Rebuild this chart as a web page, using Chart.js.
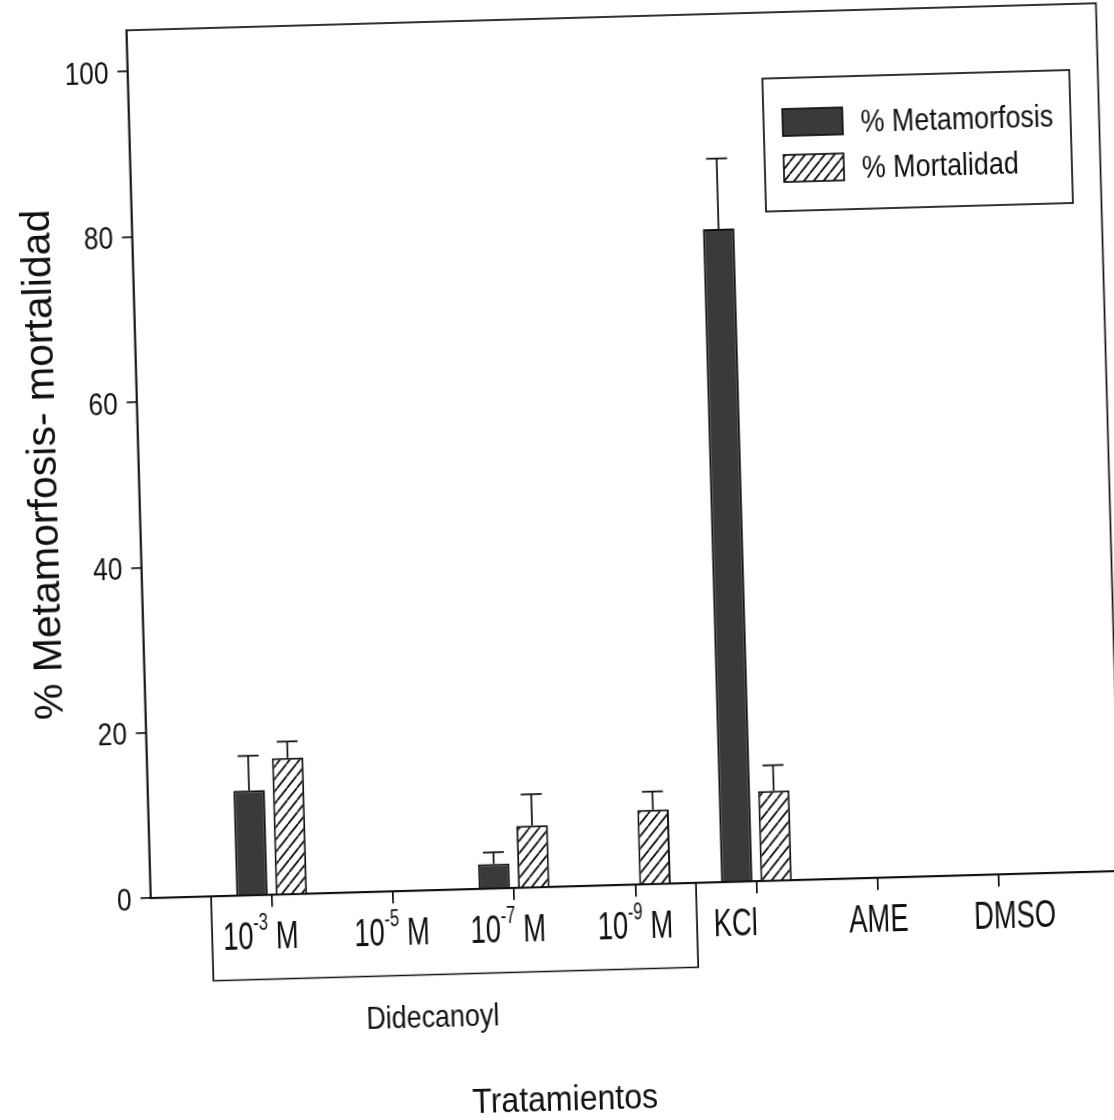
<!DOCTYPE html>
<html>
<head>
<meta charset="utf-8">
<script src="https://cdn.jsdelivr.net/npm/chart.js@4.4.1/dist/chart.umd.min.js"></script>
<style>
  html, body { margin: 0; padding: 0; background: #fff; overflow: hidden; width: 1114px; height: 1120px; }
  #wrap { position: absolute; left: 0; top: 0; width: 1160px; height: 1160px;
          transform-origin: 150.7px 898.3px; transform: rotate(-1.6deg); }
  canvas { display: block; }
</style>
</head>
<body>
<div id="wrap"><canvas id="c" width="1160" height="1160"></canvas></div>
<script>
// Treatments (exponent written after "^")
const categories = ['10^-3 M', '10^-5 M', '10^-7 M', '10^-9 M', 'KCl', 'AME', 'DMSO'];
const groupLabel = 'Didecanoyl';

// Percent values per treatment and their upper error
const metamorfosis    = [12.7, 0, 3.0, 0, 79.0, 0, 0];
const metamorfosisErr = [4.2, 0, 1.4, 0, 8.5, 0, 0];
const mortalidad      = [16.5, 0, 7.5, 9.0, 10.9, 0, 0];
const mortalidadErr   = [2.0, 0, 3.8, 2.2, 3.1, 0, 0];

const yTicks = [0, 20, 40, 60, 80, 100];

const INK = '#101010';
const FONT = '"Liberation Sans", Arial, Helvetica, sans-serif';

const ctx = document.getElementById('c').getContext('2d');

// diagonal hatch for the mortality bars
function hatchPattern() {
  const w = 10, h = 12;
  const p = document.createElement('canvas');
  p.width = w; p.height = h;
  const g = p.getContext('2d');
  g.fillStyle = '#fff';
  g.fillRect(0, 0, w, h);
  g.strokeStyle = INK;
  g.lineWidth = 1.8;
  g.beginPath();
  [-w, 0, w].forEach(x0 => { g.moveTo(x0, h); g.lineTo(x0 + w, 0); });
  g.stroke();
  return ctx.createPattern(p, 'repeat');
}
const hatch = hatchPattern();
const solidFill = '#3a3a3a';

function condensed(c, text, x, y, sx, align) {
  c.save();
  c.translate(x, y);
  c.scale(sx, 1);
  c.textAlign = align;
  c.fillText(text, 0, 0);
  c.restore();
}

const errors = [metamorfosisErr, mortalidadErr];
const labelShift = [-12, -2, -7, -1, -22, 0, 15];

const decorations = {
  id: 'decorations',
  afterDatasetsDraw(chart) {
    const c = chart.ctx;
    const area = chart.chartArea;
    const xs = chart.scales.x, ys = chart.scales.y;
    c.save();
    c.strokeStyle = INK;
    c.fillStyle = INK;
    c.lineWidth = 1.7;

    // error bars (upper side only)
    chart.data.datasets.forEach((ds, di) => {
      const meta = chart.getDatasetMeta(di);
      meta.data.forEach((bar, i) => {
        const e = errors[di][i];
        if (!e) return;
        const top = ys.getPixelForValue(ds.data[i].y + e);
        c.beginPath();
        c.moveTo(bar.x, bar.y);
        c.lineTo(bar.x, top);
        c.moveTo(bar.x - 10.5, top);
        c.lineTo(bar.x + 10.5, top);
        c.stroke();
      });
    });

    // frame
    c.strokeRect(area.left, area.top, area.right - area.left, area.bottom - area.top);

    // y tick labels
    c.font = '32px ' + FONT;
    c.textBaseline = 'alphabetic';
    yTicks.forEach(v => {
      condensed(c, String(v), area.left - 19, ys.getPixelForValue(v) + 11.5, 0.82, 'right');
    });

    // category labels, with superscript exponents
    const baseY = 952;
    categories.forEach((lab, i) => {
      const cx = xs.getPixelForValue(i + 1) + labelShift[i];
      const m = lab.match(/^(\d+)\^(-?\d+)(.*)$/);
      const sx = 0.72;
      if (m) {
        c.font = '38px ' + FONT;
        const w1 = c.measureText(m[1]).width * sx;
        const w3 = c.measureText(m[3]).width * sx;
        c.font = '23px ' + FONT;
        const w2 = c.measureText(m[2]).width * sx;
        let x = cx - (w1 + w2 + w3) / 2;
        c.font = '38px ' + FONT;
        condensed(c, m[1], x, baseY, sx, 'left'); x += w1;
        c.font = '23px ' + FONT;
        condensed(c, m[2], x, baseY - 19, sx, 'left'); x += w2;
        c.font = '38px ' + FONT;
        condensed(c, m[3], x, baseY, sx, 'left');
      } else {
        c.font = '38px ' + FONT;
        condensed(c, lab, cx, baseY, sx, 'center');
      }
    });

    // bracket grouping the Didecanoyl concentrations
    const bx1 = xs.getPixelForValue(0.5), bx2 = xs.getPixelForValue(4.5);
    c.beginPath();
    c.moveTo(bx1, area.bottom);
    c.lineTo(bx1, 982.5);
    c.lineTo(bx2, 982.5);
    c.lineTo(bx2, area.bottom);
    c.stroke();

    c.font = '32px ' + FONT;
    condensed(c, groupLabel, xs.getPixelForValue(2.3), 1034.5, 0.84, 'center');

    // axis titles
    c.font = '35px ' + FONT;
    condensed(c, 'Tratamientos', 559.4, 1121.5, 0.915, 'center');

    c.save();
    c.translate(68, 462);
    c.rotate(-Math.PI / 2);
    c.font = '41px ' + FONT;
    c.textAlign = 'center';
    c.fillText('% Metamorfosis- mortalidad', 0, 0);
    c.restore();

    // legend
    c.strokeRect(785, 96, 307, 133);
    const items = [
      { fill: solidFill, y: 127, ty: 140 },
      { fill: hatch, y: 173, ty: 186 }
    ];
    chart.data.datasets.forEach((ds, di) => {
      const it = items[di];
      c.fillStyle = it.fill;
      c.fillRect(804, it.y, 60, 27);
      c.strokeRect(804, it.y, 60, 27);
      c.fillStyle = INK;
      c.font = '32px ' + FONT;
      condensed(c, ds.label, 882, it.ty + 11.5, 0.84, 'left');
    });

    c.restore();
  }
};

new Chart(ctx, {
  type: 'bar',
  data: {
    datasets: [
      {
        label: '% Metamorfosis',
        data: categories.map((_, i) => ({ x: i + 1, y: metamorfosis[i] })),
        backgroundColor: solidFill,
        borderColor: INK,
        borderWidth: 2
      },
      {
        label: '% Mortalidad',
        data: categories.map((_, i) => ({ x: i + 1, y: mortalidad[i] })),
        backgroundColor: hatch,
        borderColor: INK,
        borderWidth: 2
      }
    ]
  },
  options: {
    responsive: false,
    animation: false,
    devicePixelRatio: 1,
    categoryPercentage: 0.65,
    barPercentage: 0.8,
    layout: { padding: { left: 140.5, right: 39.5, top: 30, bottom: 249.7 } },
    plugins: { legend: { display: false }, tooltip: { enabled: false } },
    scales: {
      x: {
        type: 'linear',
        offset: false,
        min: 0,
        max: 8,
        afterBuildTicks: s => { s.ticks = categories.map((_, i) => ({ value: i + 1 })); },
        ticks: { display: false },
        grid: { offset: false, drawOnChartArea: false, drawTicks: true, tickLength: 12, color: INK, lineWidth: 1.7 },
        border: { display: true, color: INK, width: 1.7 }
      },
      y: {
        min: 0,
        max: 105,
        afterBuildTicks: s => { s.ticks = yTicks.map(v => ({ value: v })); },
        ticks: { display: false },
        grid: { drawOnChartArea: false, drawTicks: true, tickLength: 10, color: INK, lineWidth: 1.7 },
        border: { display: true, color: INK, width: 1.7 }
      }
    }
  },
  plugins: [decorations]
});
</script>
</body>
</html>
